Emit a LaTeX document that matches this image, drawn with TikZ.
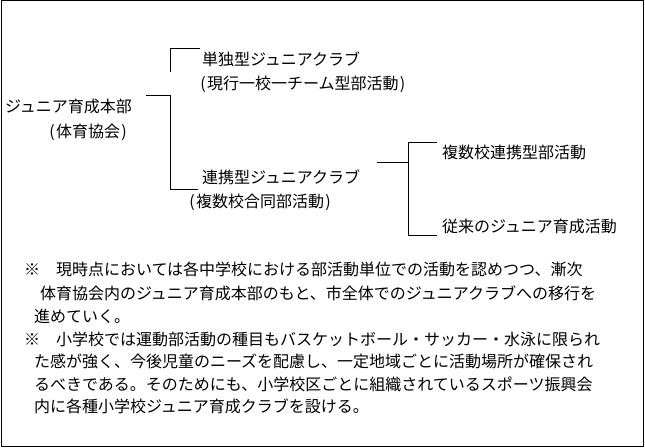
\documentclass[tikz,border=0pt]{standalone}
\usepackage{fontspec}
\newfontfamily\jpfont{Noto Sans CJK JP}
\newcommand\hw[1]{\makebox[6pt]{#1}}
\begin{document}
\begin{tikzpicture}[x=0.75pt,y=-0.75pt,line width=0.75pt,
  txt/.style={anchor=base west,inner sep=0pt,outer sep=0pt,font=\jpfont\fontsize{12pt}{14pt}\selectfont},
  conn/.style={draw=black,line width=0.75pt}]
\useasboundingbox (0,0) rectangle (645,448);
\draw[line width=0.75pt] (1,1) rectangle (643,446);
% tree labels
\node[txt] (hq) at (5,113) {ジュニア育成本部};
\node[txt] (hqs) at (48,138) {\hw{(}体育協会\hw{)}};
\node[txt] (single) at (202,66) {単独型ジュニアクラブ};
\node[txt] (singles) at (199,90) {\hw{(}現行一校一チーム型部活動\hw{)}};
\node[txt] (link) at (202,184) {連携型ジュニアクラブ};
\node[txt] (links) at (188,208) {\hw{(}複数校合同部活動\hw{)}};
\node[txt] (multi) at (442,159) {複数校連携型部活動};
\node[txt] (trad) at (442,233) {従来のジュニア育成活動};
% bracket points
\coordinate (a1) at (200,49);
\coordinate (a2) at (170,49);
\coordinate (a3) at (170,72);
\coordinate (b1) at (146,96);
\coordinate (b2) at (170,96);
\coordinate (b3) at (170,190);
\coordinate (b4) at (198,190);
\coordinate (c1) at (377,163);
\coordinate (c2) at (408,163);
\coordinate (d1) at (437,143);
\coordinate (d2) at (408,143);
\coordinate (d3) at (408,236);
\coordinate (d4) at (437,236);
\draw[conn] (a1) -- (a2) -- (a3);
\draw[conn] (b1) -- (b2) -- (b3) -- (b4);
\draw[conn] (c1) -- (c2);
\draw[conn] (d1) -- (d2) -- (d3) -- (d4);
% notes
\node[txt] (n1) at (24,276) {※　現時点においては各中学校における部活動単位での活動を認めつつ、漸次};
\node[txt] (n2) at (40,300) {体育協会内のジュニア育成本部のもと、市全体でのジュニアクラブへの移行を};
\node[txt] (n3) at (34,323) {進めていく。};
\node[txt] (n4) at (24,346) {※　小学校では運動部活動の種目もバスケットボール・サッカー・水泳に限られ};
\node[txt] (n5) at (34,368) {た感が強く、今後児童のニーズを配慮し、一定地域ごとに活動場所が確保され};
\node[txt] (n6) at (34,390) {るべきである。そのためにも、小学校区ごとに組織されているスポーツ振興会};
\node[txt] (n7) at (34,412) {内に各種小学校ジュニア育成クラブを設ける。};
\end{tikzpicture}
\end{document}
